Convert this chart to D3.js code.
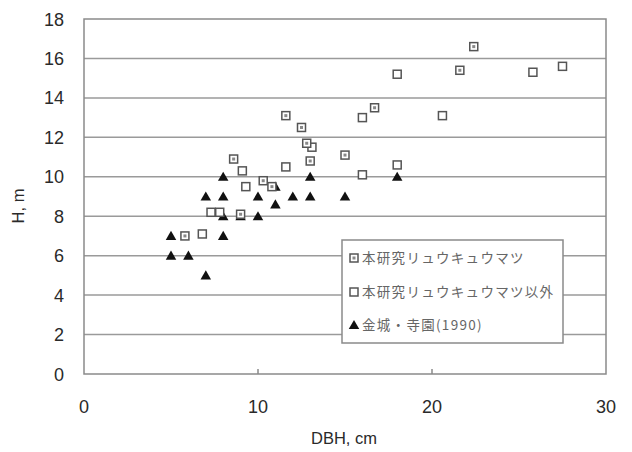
<!DOCTYPE html>
<html>
<head>
<meta charset="utf-8">
<script src="https://cdn.jsdelivr.net/npm/d3@7"></script>
<style>
  body { margin: 0; background: #fff; }
  text { font-family: "Liberation Sans", Arial, sans-serif; }
</style>
</head>
<body>
<div id="cnt"></div>
<script>
// this study, Ryukyu pine
const pineDbh = [5.8, 8.6, 10.3, 10.8, 11.6, 12.5, 12.8, 13.0, 15.0, 16.7, 21.6, 22.4, 9.0]
const pineH = [7.0, 10.9, 9.8, 9.5, 13.1, 12.5, 11.7, 10.8, 11.1, 13.5, 15.4, 16.6, 8.1]
// this study, other species
const otherDbh = [6.8, 7.3, 7.8, 9.1, 9.3, 11.6, 13.1, 16.0, 16.0, 18.0, 18.0, 20.6, 25.8, 27.5]
const otherH = [7.1, 8.2, 8.2, 10.3, 9.5, 10.5, 11.5, 10.1, 13.0, 15.2, 10.6, 13.1, 15.3, 15.6]
// Kinjo & Terazono (1990)
const kinjoDbh = [5, 5, 6, 7, 7, 8, 8, 8, 8, 9, 10, 10, 11, 11, 12, 13, 13, 15, 18]
const kinjoH = [7, 6, 6, 5, 9, 10, 9, 8, 7, 8, 9, 8, 9.5, 8.6, 9, 10, 9, 9, 10]

const legendLabels = ['本研究リュウキュウマツ', '本研究リュウキュウマツ以外', '金城・寺園(1990)']
const xTicks = [0, 10, 20, 30]
const yTicks = [0, 2, 4, 6, 8, 10, 12, 14, 16, 18]

const width = 632
const height = 452
const gridColor = '#9a9a9a'
const textColor = '#2a2a2a'

const x = d3.scaleLinear().domain([0, 30]).range([84, 606])
const y = d3.scaleLinear().domain([0, 18]).range([374, 19])

const svg = d3.select('#cnt')
    .append('svg')
    .attr('width', width)
    .attr('height', height)

// horizontal grid
svg.append('g')
    .selectAll('line')
    .data(yTicks.filter(d => d > 0 && d < 18))
    .join('line')
    .attr('x1', x(0))
    .attr('x2', x(30))
    .attr('y1', d => y(d))
    .attr('y2', d => y(d))
    .attr('stroke', gridColor)
    .attr('stroke-width', 1.5)

// plot frame
svg.append('rect')
    .attr('x', x(0))
    .attr('y', y(18))
    .attr('width', x(30) - x(0))
    .attr('height', y(0) - y(18))
    .attr('fill', 'none')
    .attr('stroke', '#8a8a8a')
    .attr('stroke-width', 1.5)

// x ticks (inside)
svg.append('g')
    .selectAll('line')
    .data(xTicks.filter(d => d > 0 && d < 30))
    .join('line')
    .attr('x1', d => x(d))
    .attr('x2', d => x(d))
    .attr('y1', y(0))
    .attr('y2', y(0) - 5)
    .attr('stroke', '#8a8a8a')
    .attr('stroke-width', 1.5)

// tick labels
svg.append('g')
    .selectAll('text')
    .data(yTicks)
    .join('text')
    .attr('x', 64)
    .attr('y', d => y(d) + 6.5)
    .attr('text-anchor', 'end')
    .attr('font-size', 18)
    .attr('fill', textColor)
    .text(d => d)

svg.append('g')
    .selectAll('text')
    .data(xTicks)
    .join('text')
    .attr('x', d => x(d))
    .attr('y', 413)
    .attr('text-anchor', 'middle')
    .attr('font-size', 18)
    .attr('fill', textColor)
    .text(d => d)

svg.append('text')
    .attr('transform', 'translate(24,206) rotate(-90)')
    .attr('text-anchor', 'middle')
    .attr('font-size', 16.5)
    .attr('fill', textColor)
    .text('H, m')

svg.append('text')
    .attr('x', 344)
    .attr('y', 444)
    .attr('text-anchor', 'middle')
    .attr('font-size', 16.5)
    .attr('fill', textColor)
    .text('DBH, cm')

// markers
const tri = d3.symbol().type(d3.symbolTriangle).size(48)
const sq = 8

function drawPine(g, cx, cy) {
    g.append('rect')
        .attr('x', cx - sq / 2).attr('y', cy - sq / 2)
        .attr('width', sq).attr('height', sq)
        .attr('fill', '#fff').attr('stroke', '#555').attr('stroke-width', 1.5)
    g.append('rect')
        .attr('x', cx - 1.5).attr('y', cy - 1.5)
        .attr('width', 3).attr('height', 3)
        .attr('fill', '#888')
}

function drawOther(g, cx, cy) {
    g.append('rect')
        .attr('x', cx - sq / 2).attr('y', cy - sq / 2)
        .attr('width', sq).attr('height', sq)
        .attr('fill', '#fff').attr('stroke', '#555').attr('stroke-width', 1.5)
}

function drawTri(g, cx, cy) {
    g.append('path')
        .attr('d', tri())
        .attr('transform', `translate(${cx},${cy + 1})`)
        .attr('fill', '#111')
}

const pts = svg.append('g')
kinjoDbh.forEach((d, i) => drawTri(pts, x(d), y(kinjoH[i])))
otherDbh.forEach((d, i) => drawOther(pts, x(d), y(otherH[i])))
pineDbh.forEach((d, i) => drawPine(pts, x(d), y(pineH[i])))

// legend
const lg = svg.append('g')
lg.append('rect')
    .attr('x', 342)
    .attr('y', 240)
    .attr('width', 221)
    .attr('height', 103)
    .attr('fill', '#fff')
    .attr('stroke', '#8a8a8a')
    .attr('stroke-width', 1.5)

const rowsY = [258, 292, 325]
const drawers = [drawPine, drawOther, drawTri]
legendLabels.forEach((t, i) => {
    drawers[i](lg, 354, rowsY[i])
    lg.append('text')
        .attr('x', 362)
        .attr('y', rowsY[i] + 5)
        .attr('font-size', 13.5)
        .attr('letter-spacing', 1.3)
        .attr('fill', '#666')
        .style('font-family', '"Noto Sans CJK JP", sans-serif')
        .text(t)
})
</script>
</body>
</html>
